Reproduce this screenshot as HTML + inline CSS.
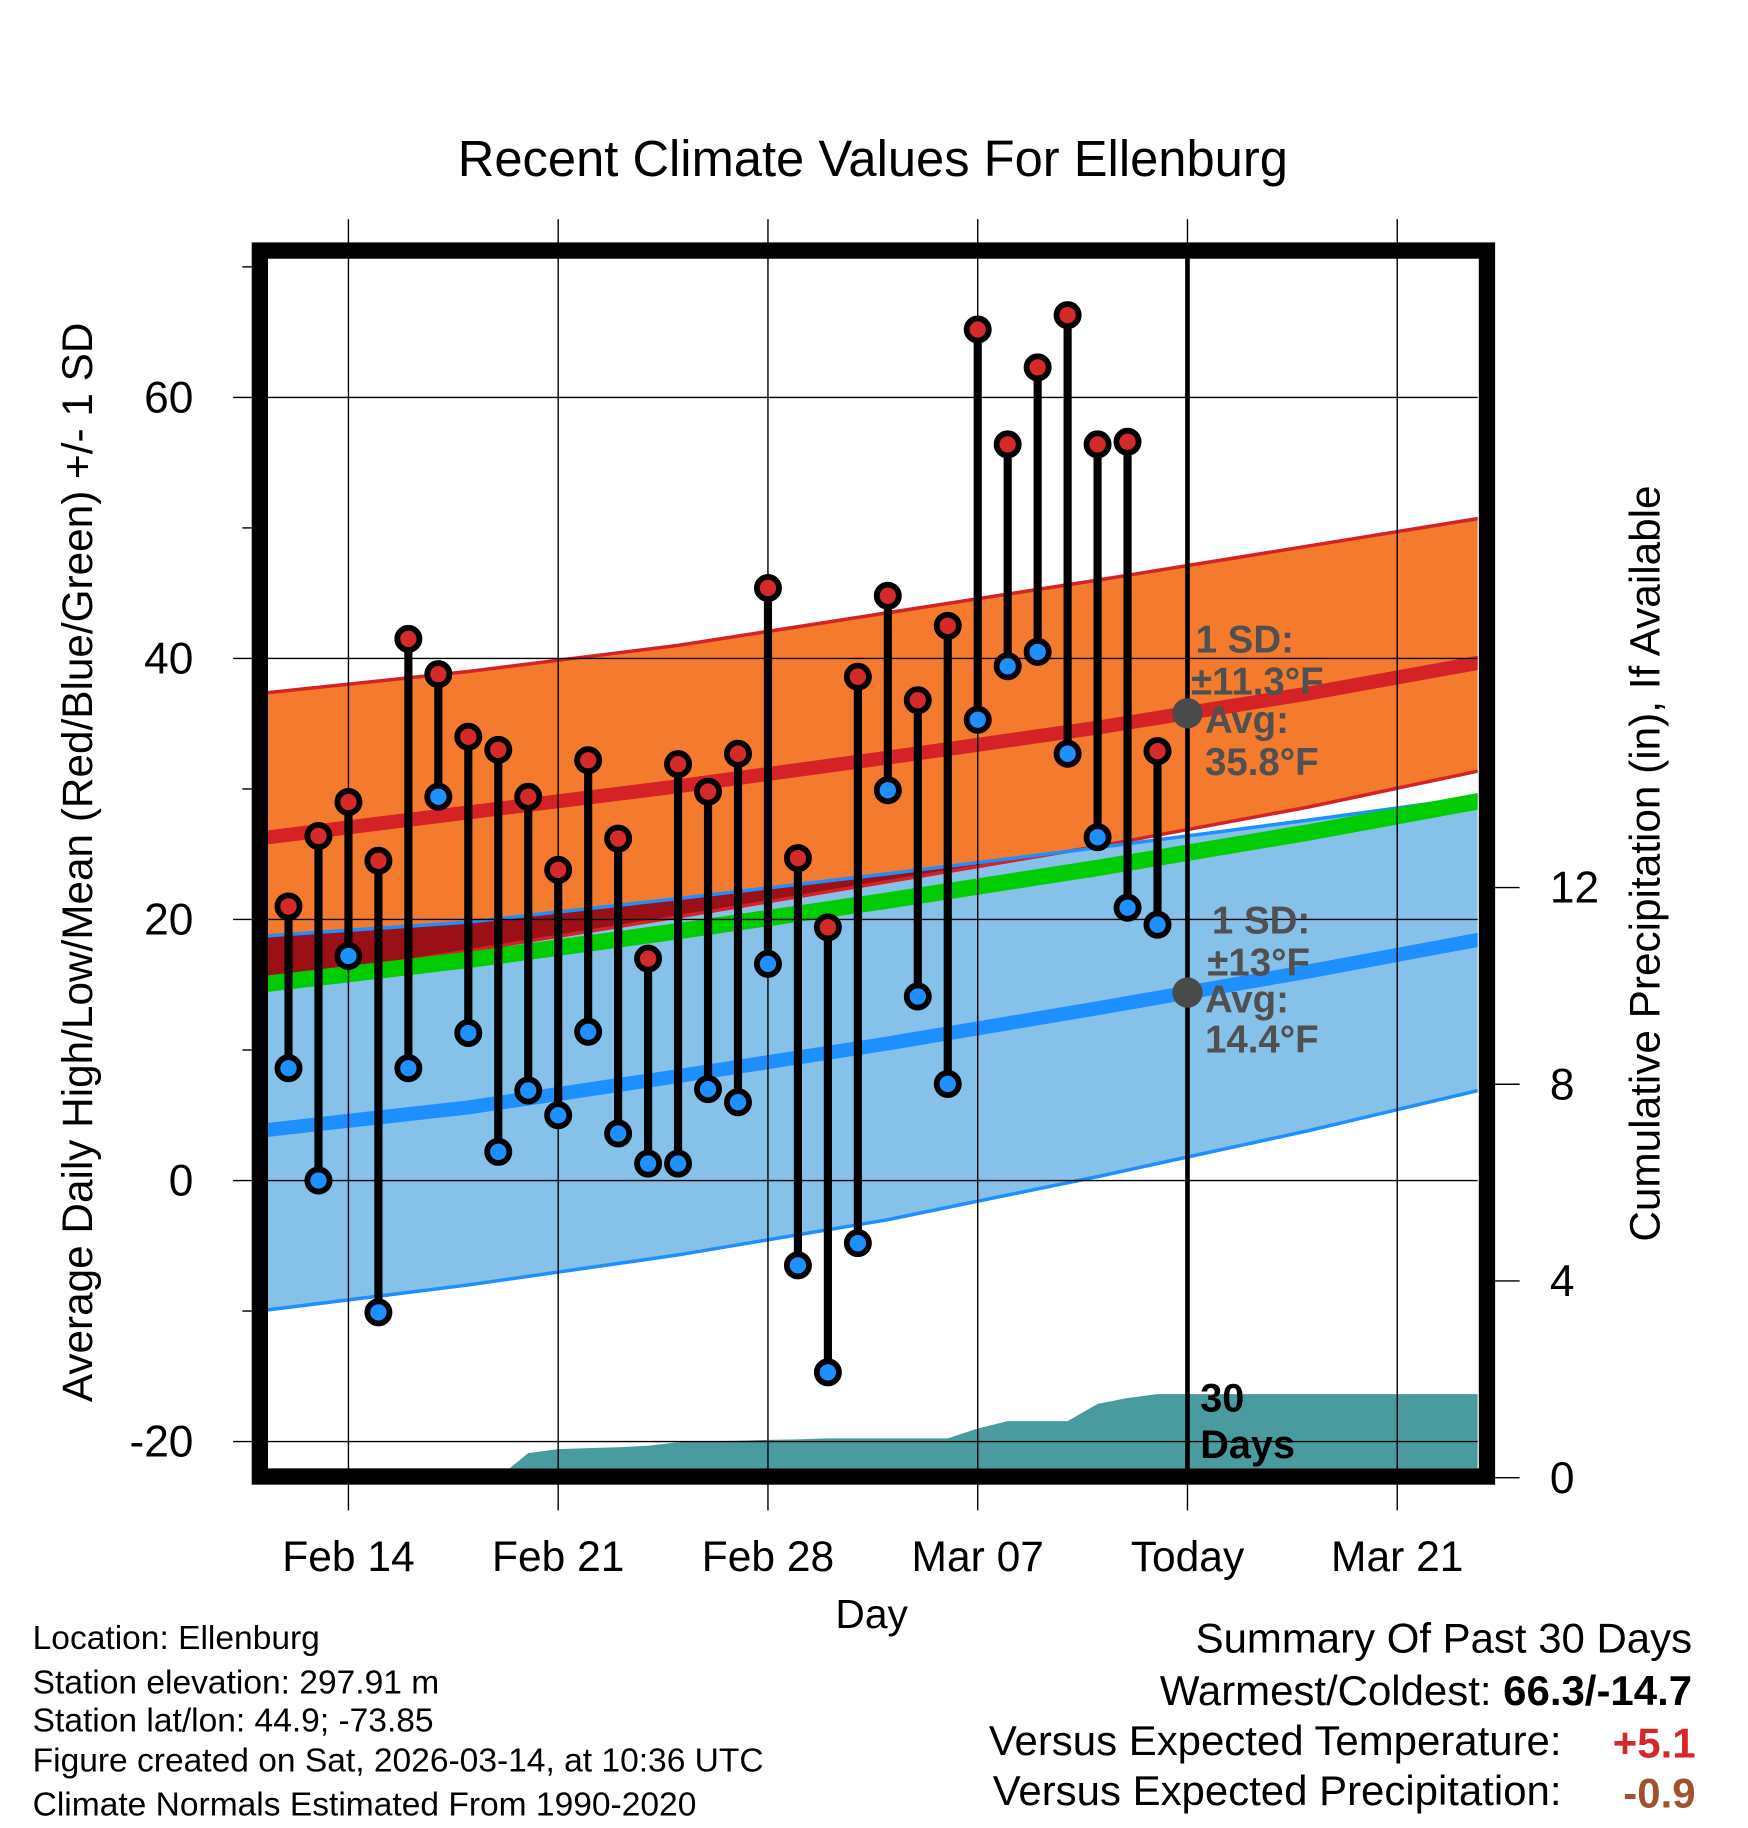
<!DOCTYPE html>
<html><head><meta charset="utf-8"><style>
html,body{margin:0;padding:0;background:#fff}
svg{display:block}
text{font-family:"Liberation Sans",Arial,sans-serif}
</style></head><body>
<svg id="chart" width="1748" height="1828" viewBox="0 0 1500 1568.6" preserveAspectRatio="none" xmlns="http://www.w3.org/2000/svg">
<defs><clipPath id="plotclip"><rect x="230" y="222" width="1038" height="1038"/></clipPath></defs>
<text x="749" y="151" font-size="43.5" text-anchor="middle">Recent Climate Values For Ellenburg</text>
<g id="plot" clip-path="url(#plotclip)"></g>
<g id="over"></g>
<text transform="translate(79,740) rotate(-90)" font-size="36.3" text-anchor="middle">Average Daily High/Low/Mean (Red/Blue/Green) +/- 1 SD</text>
<text transform="translate(1424,741) rotate(-90)" font-size="36.3" text-anchor="middle">Cumulative Precipitation (in), If Available</text>
<text x="748" y="1397" font-size="35" text-anchor="middle">Day</text>
<g font-size="28.8">
<text x="28" y="1415">Location: Ellenburg</text>
<text x="28" y="1453">Station elevation: 297.91 m</text>
<text x="28" y="1486">Station lat/lon: 44.9; -73.85</text>
<text x="28" y="1520">Figure created on Sat, 2026-03-14, at 10:36 UTC</text>
<text x="28" y="1558">Climate Normals Estimated From 1990-2020</text>
</g>
<g font-size="36">
<text x="1452" y="1418" text-anchor="end">Summary Of Past 30 Days</text>
<text x="1452" y="1463" text-anchor="end">Warmest/Coldest: <tspan font-weight="bold">66.3/-14.7</tspan></text>
<text x="1340" y="1506" text-anchor="end">Versus Expected Temperature:</text>
<text x="1455" y="1508" text-anchor="end" font-weight="bold" fill="#d62728">+5.1</text>
<text x="1340" y="1549" text-anchor="end">Versus Expected Precipitation:</text>
<text x="1455" y="1551" text-anchor="end" font-weight="bold" fill="#a0522d">-0.9</text>
</g>
</svg>
<script>
// data (day index: 0 = Feb 14)
const days = [-2,-1,0,1,2,3,4,5,6,7,8,9,10,11,12,13,14,15,16,17,18,19,20,21,22,23,24,25,26,27];
const highs = [21,26.4,29,24.5,41.5,38.8,34,33,29.4,23.8,32.2,26.2,17,31.9,29.8,32.7,45.4,24.7,19.4,38.6,44.8,36.8,42.5,65.2,56.4,62.3,66.3,56.4,56.6,32.9];
const lows = [8.6,0,17.2,-10.1,8.6,29.4,11.3,2.2,6.9,5,11.4,3.6,1.3,1.3,7,6,16.6,-6.5,-14.7,-4.8,29.9,14.1,7.4,35.3,39.4,40.5,32.7,26.3,20.9,19.6];
const precip = [0,0,0,0,0,0,0,0,0.5,0.58,0.6,0.62,0.65,0.72,0.74,0.75,0.77,0.78,0.8,0.8,0.8,0.8,0.8,1.0,1.15,1.15,1.15,1.5,1.62,1.7];
const normDays = [-3,4,11,18,25,32,39];
const highUpper = [37.3,39.0,41.0,43.5,46.0,48.6,51.2];
const highAvg = [26.2,28.2,30.2,32.4,34.7,37.3,40.2];
const highLower = [15.0,17.6,20.2,22.9,25.6,28.6,32.0];
const lowUpper = [18.7,19.8,21.6,23.5,25.5,27.6,29.8];
const lowAvg = [3.8,5.6,8.0,10.5,13.2,16.0,19.0];
const lowLower = [-10.0,-8.0,-5.7,-3.0,0.3,3.8,7.6];
const yTicks = [60,40,20,0,-20];
const yMinor = [70,50,30,10,-10];
const xTickDays = [0,7,14,21,28,35];
const xTickLabels = ["Feb 14","Feb 21","Feb 28","Mar 07","Today","Mar 21"];
const pTicks = [0,4,8,12];
const todayDay = 28;

const X = d => 299 + d*180/7;
const Y = v => 1013 - v*11.2;
const P = v => 1268 - v*42.2;
const NS = "http://www.w3.org/2000/svg";
const plot = document.getElementById('plot');
const over = document.getElementById('over');
function mk(parent, tag, attrs){const e=document.createElementNS(NS,tag);for(const k in attrs)e.setAttribute(k,attrs[k]);parent.appendChild(e);return e;}
const line = arr => normDays.map((d,i)=>X(d)+','+Y(arr[i])).join(' ');
const band = (a,b) => normDays.map((d,i)=>X(d)+','+Y(a[i])).join(' ')+' '+normDays.slice().reverse().map((d,j)=>{const i=normDays.length-1-j;return X(d)+','+Y(b[i]);}).join(' ');

let e;
e = mk(plot,'polygon',{points:band(lowUpper,lowLower),fill:'#85c1e9'});
 
e = mk(plot,'polygon',{points:band(highUpper,highLower),fill:'#f47a2e'});
 
const ovU = normDays.map((d,i)=>Math.max(highLower[i],Math.min(lowUpper[i],highUpper[i])));
e = mk(plot,'polygon',{points:band(ovU,highLower),fill:'#9b1016'});
 
e = mk(plot,'polyline',{points:line(highUpper),fill:'none',stroke:'#d42226','stroke-width':3});
 
e = mk(plot,'polyline',{points:line(highLower),fill:'none',stroke:'#d42226','stroke-width':3});
 
e = mk(plot,'polyline',{points:line(lowUpper),fill:'none',stroke:'#1e8fff','stroke-width':3});
 
e = mk(plot,'polyline',{points:line(lowLower),fill:'none',stroke:'#1e8fff','stroke-width':3});
 
const meanAvg = highAvg.map((h,i)=>(h+lowAvg[i])/2);
e = mk(plot,'polyline',{points:line(meanAvg),fill:'none',stroke:'#00cc00','stroke-width':14});
 
e = mk(plot,'polyline',{points:line(highAvg),fill:'none',stroke:'#d42226','stroke-width':12});
 
e = mk(plot,'polyline',{points:line(lowAvg),fill:'none',stroke:'#1e8fff','stroke-width':12});
 

// precipitation area
let pp = X(days[0])+','+P(0)+' '+days.map((d,i)=>X(d)+','+P(precip[i])).join(' ')+' '+X(40)+','+P(precip[precip.length-1])+' '+X(40)+','+P(0);
e = mk(plot,'polygon',{points:pp,fill:'#4a9ba0'});
 

// gridlines
yTicks.forEach(v=>{
  e = mk(over,'line',{x1:230,x2:1268,y1:Y(v),y2:Y(v),stroke:'#000','stroke-width':1.2});
   
  e = mk(over,'line',{x1:200,x2:216,y1:Y(v),y2:Y(v),stroke:'#000','stroke-width':1.2});
   
  e = mk(over,'text',{x:166,y:Y(v)+13,'font-size':38,'text-anchor':'end'}); e.textContent=v;
   
});
yMinor.forEach(v=>{
  e = mk(over,'line',{x1:208,x2:216,y1:Y(v),y2:Y(v),stroke:'#000','stroke-width':1.2});
   
});
xTickDays.forEach((d,i)=>{
  e = mk(over,'line',{x1:X(d),x2:X(d),y1:188,y2:1296,stroke:'#000','stroke-width':1.2});
   
  e = mk(over,'text',{x:X(d),y:1348,'font-size':36.5,'text-anchor':'middle'}); e.textContent=xTickLabels[i];
   
});
pTicks.forEach(v=>{
  e = mk(over,'line',{x1:1283,x2:1304,y1:P(v),y2:P(v),stroke:'#000','stroke-width':1.2});
   
  e = mk(over,'text',{x:1330,y:P(v)+13,'font-size':38}); e.textContent=v;
   
});

// today line
e = mk(over,'line',{x1:X(todayDay),x2:X(todayDay),y1:222,y2:1260,stroke:'#000','stroke-width':4});
 

// stems and markers
days.forEach((d,i)=>{
  e = mk(over,'line',{x1:X(d),x2:X(d),y1:Y(highs[i]),y2:Y(lows[i]),stroke:'#000','stroke-width':7});
   
  e = mk(over,'circle',{cx:X(d),cy:Y(highs[i]),r:9.5,fill:'#d42a2a',stroke:'#000','stroke-width':5});
   
  e = mk(over,'circle',{cx:X(d),cy:Y(lows[i]),r:9.5,fill:'#1e90ff',stroke:'#000','stroke-width':5});
   
});

// today normals markers
const hT = 35.8, lT = 14.4;
e = mk(over,'circle',{cx:X(todayDay),cy:Y(hT),r:13,fill:'#4a4a4a'});
 
e = mk(over,'circle',{cx:X(todayDay),cy:Y(lT),r:13,fill:'#4a4a4a'});
 

const ann = [[1026,560,"1 SD:"],[1022,596,"±11.3°F"],[1034,629,"Avg:"],[1034,665,"35.8°F"],
             [1040,801,"1 SD:"],[1036,837,"±13°F"],[1034,869,"Avg:"],[1034,903,"14.4°F"]];
ann.forEach(a=>{
  e = mk(over,'text',{x:a[0],y:a[1],'font-size':33,'font-weight':'bold',fill:'#505050'}); e.textContent=a[2];
   
});
e = mk(over,'text',{x:1030,y:1211,'font-size':34,'font-weight':'bold'}); e.textContent='30';
 
e = mk(over,'text',{x:1030,y:1251,'font-size':34,'font-weight':'bold'}); e.textContent='Days';
 

// frame
e = mk(over,'rect',{x:223,y:215,width:1053,height:1052,fill:'none',stroke:'#000','stroke-width':14});
 
</script>
</body></html>
